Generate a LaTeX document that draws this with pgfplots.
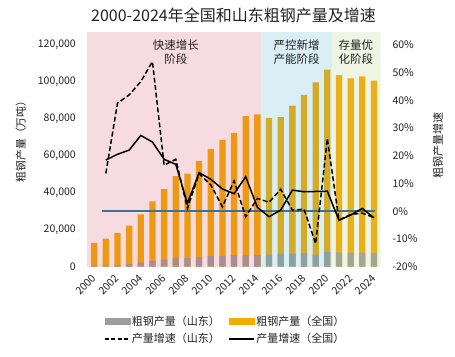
\documentclass[border=0pt]{standalone}
\usepackage{fontspec}
\setmainfont{Noto Sans CJK SC}
\usepackage{pgfplots}
\usepackage{pgfplotstable}
\pgfplotsset{compat=1.18}
\definecolor{orangebar}{RGB}{245,172,0}
\definecolor{greybar}{RGB}{158,158,158}
\definecolor{spanpink}{RGB}{210,80,100}
\definecolor{spanblue}{RGB}{70,170,205}
\definecolor{spanbeige}{RGB}{180,200,115}
\definecolor{hlinec}{RGB}{60,115,145}
\definecolor{txt}{RGB}{34,34,34}

\pgfplotstableread{
x nat sd
0 12850 650
1 15163 740
2 18237 1030
3 22234 1460
4 28291 2140
5 35324 3290
6 41915 3840
7 48929 4550
8 50306 4620
9 57218 5240
10 63723 5770
11 68528 5860
12 72388 6200
13 81314 6080
14 82270 6360
15 80383 6570
16 80837 7100
17 87074 7130
18 92826 7180
19 99634 6500
20 106477 8000
21 103500 7700
22 101800 7600
23 102800 7550
24 100600 7400
}\prodtab

\pgfplotstableread{
x nat sd
1 18.4 13.6
2 20.5 38.9
3 22.0 41.9
4 27.3 46.7
5 24.9 53.9
6 18.7 16.6
7 16.9 18.7
8 2.8 1.0
9 13.9 13.5
10 11.5 9.5
11 8.0 1.6
12 6.3 10.9
13 12.4 -2.0
14 1.4 4.6
15 -2.0 3.2
16 0.4 7.9
17 7.6 0.4
18 7.0 0.7
19 7.1 -11.7
20 7.2 26.2
21 -3.3 -3.2
22 -1.4 -1.2
23 1.0 -0.7
24 -2.4 -2.3
}\growtab

\begin{document}
\begin{tikzpicture}[x=1pt,y=1pt]
\useasboundingbox (0,0) rectangle (455,356);
\node[font=\fontsize{16}{19}\selectfont, text=txt] at (233.5,341) {2000-2024年全国和山东粗钢产量及增速};
\node[font=\fontsize{10.8}{13}\selectfont, text=txt, rotate=90] at (20.7,217) {粗钢产量（万吨）};
\node[font=\fontsize{11}{13}\selectfont, text=txt, rotate=90] at (438,210) {粗钢产量增速};

\begin{axis}[
  at={(86.7pt,89.3pt)}, anchor=south west, scale only axis,
  width=293.8pt, height=235pt,
  xmin=-0.64, xmax=24.56, ymin=0, ymax=127000,
  scaled y ticks=false,
  axis line style={draw=none}, major tick length=0pt, tick style={draw=none},
  xtick={0,2,4,6,8,10,12,14,16,18,20,22,24},
  xticklabels={2000,2002,2004,2006,2008,2010,2012,2014,2016,2018,2020,2022,2024},
  xticklabel style={yshift=-10pt, rotate=45, anchor=east, inner sep=0pt, font=\fontsize{10.5}{12}\selectfont, text=txt},
  ytick={0,20000,40000,60000,80000,100000,120000},
  yticklabels={0,{20,000},{40,000},{60,000},{80,000},{100,000},{120,000}},
  yticklabel style={xshift=-10.7pt, anchor=east, inner sep=0pt, font=\fontsize{10.5}{12}\selectfont, text=txt},
  /pgf/number format/assume math mode=true,
]
\addplot[ybar, bar width=6.3pt, bar shift=0pt, fill=orangebar, draw=none] table[x=x,y=nat]{\prodtab};
\addplot[ybar, bar width=6.3pt, bar shift=0pt, fill=greybar, draw=none] table[x=x,y=sd]{\prodtab};
\fill[spanpink, fill opacity=0.2] (axis cs:-0.64,0) rectangle (axis cs:14.3,127000);
\fill[spanblue, fill opacity=0.2] (axis cs:14.3,0) rectangle (axis cs:20.4,127000);
\fill[spanbeige, fill opacity=0.2] (axis cs:20.4,0) rectangle (axis cs:24.56,127000);
\node[font=\fontsize{11.5}{14.3}\selectfont, text=txt, align=center] at (axis cs:7.0,116000) {快速增长\\阶段};
\node[font=\fontsize{11.5}{14.3}\selectfont, text=txt, align=center] at (axis cs:17.36,116000) {严控新增\\产能阶段};
\node[font=\fontsize{11.5}{14.3}\selectfont, text=txt, align=center] at (axis cs:22.45,116000) {存量优\\化阶段};
\end{axis}

\begin{axis}[
  at={(86.7pt,89.3pt)}, anchor=south west, scale only axis,
  width=293.8pt, height=235pt,
  xmin=-0.64, xmax=24.56, ymin=-20, ymax=64.667,
  axis line style={draw=none}, major tick length=0pt, tick style={draw=none},
  xtick=\empty,
  ytick={-20,-10,0,10,20,30,40,50,60},
  yticklabels={-20\%,-10\%,0\%,10\%,20\%,30\%,40\%,50\%,60\%},
  yticklabel pos=right,
  yticklabel style={xshift=11.8pt, anchor=west, inner sep=0pt, font=\fontsize{10.5}{12}\selectfont, text=txt},
  /pgf/number format/assume math mode=true,
  legend columns=2,
  legend style={at={(0.4707,-0.2694)}, anchor=center, draw=none, fill=none,
    font=\fontsize{11}{13}\selectfont, text=txt,
    /tikz/every even column/.append style={column sep=7pt},
    row sep=4pt, nodes={inner sep=1.5pt, anchor=west}},
]
\addlegendimage{legend image code/.code={\fill[greybar] (0pt,-3pt) rectangle (25pt,3pt);}}
\addlegendimage{legend image code/.code={\fill[orangebar] (0pt,-3pt) rectangle (25pt,3pt);}}
\addplot[hlinec, line width=1.8pt, forget plot] coordinates {(0.69,0) (24.08,0)};
\addplot[black, line width=1.5pt, dash pattern=on 5pt off 2.5pt,
  legend image code/.code={\draw[black, line width=1.5pt, dash pattern=on 4pt off 2.5pt] (0pt,0pt) -- (25pt,0pt);}]
  table[x=x,y=sd]{\growtab};
\addplot[black, line width=1.5pt,
  legend image code/.code={\draw[black, line width=1.5pt] (0pt,0pt) -- (25pt,0pt);}]
  table[x=x,y=nat]{\growtab};
\legend{粗钢产量（山东）,粗钢产量（全国）,产量增速（山东）,产量增速（全国）}
\end{axis}
\end{tikzpicture}
\end{document}
